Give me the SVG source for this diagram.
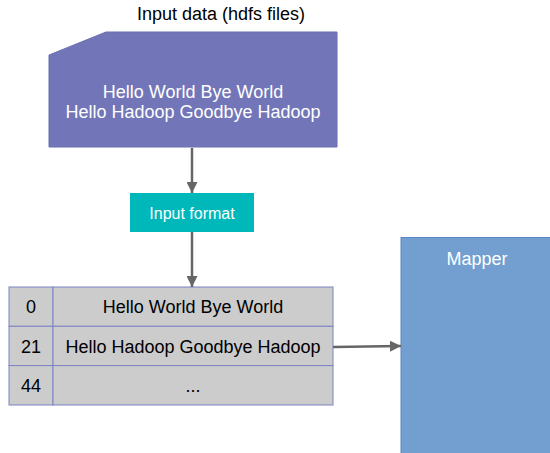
<svg xmlns="http://www.w3.org/2000/svg" width="550" height="453" viewBox="0 0 550 453">
<style>
text{font-family:"Liberation Sans",Arial,sans-serif;text-anchor:middle}
.w{fill:#ffffff}
.k{fill:#000000}
.cell{fill:#cccccc;stroke:#7d84c4;stroke-width:1}
.conn{stroke:#666666;stroke-width:2.5;fill:none;marker-end:url(#ah)}
</style>
<defs>
<marker id="ah" viewBox="0 0 10 10" refX="10" refY="5" markerWidth="4.4" markerHeight="4.4" markerUnits="strokeWidth" orient="auto">
<path d="M0,0 L10,5 L0,10 z" fill="#666666"/>
</marker>
</defs>
<text class="k" x="221" y="20" font-size="18">Input data (hdfs files)</text>
<g id="input-data">
<path d="M49,55 L106,32 L337,32 L337,147 L49,147 Z" fill="#7276b8" stroke="#6a6fb0" stroke-width="1"/>
<text class="w" x="193" y="98" font-size="18">Hello World Bye World</text>
<text class="w" x="193" y="118" font-size="18">Hello Hadoop Goodbye Hadoop</text>
</g>
<g id="input-format">
<rect x="130" y="193" width="124" height="39" fill="#00b7b9"/>
<text class="w" x="192" y="219" font-size="16">Input format</text>
</g>
<g id="table">
<rect class="cell" x="9" y="287" width="44" height="39.3"/>
<rect class="cell" x="53" y="287" width="280" height="39.3"/>
<rect class="cell" x="9" y="326.3" width="44" height="39.3"/>
<rect class="cell" x="53" y="326.3" width="280" height="39.3"/>
<rect class="cell" x="9" y="365.6" width="44" height="39.4"/>
<rect class="cell" x="53" y="365.6" width="280" height="39.4"/>
<text class="k" x="31" y="313" font-size="18">0</text>
<text class="k" x="193" y="313" font-size="18">Hello World Bye World</text>
<text class="k" x="31" y="353" font-size="18">21</text>
<text class="k" x="193" y="353" font-size="18">Hello Hadoop Goodbye Hadoop</text>
<text class="k" x="31" y="392" font-size="18">44</text>
<text class="k" x="193" y="392" font-size="18">...</text>
</g>
<g id="mapper">
<rect x="401" y="237.5" width="155" height="220" fill="#729fcf" stroke="#5b87c0" stroke-width="1"/>
<text class="w" x="477" y="265" font-size="18">Mapper</text>
</g>
<g id="connectors">
<line class="conn" x1="192" y1="148" x2="192" y2="193"/>
<line class="conn" x1="192" y1="232" x2="192" y2="287"/>
<line class="conn" x1="333" y1="347" x2="401" y2="346"/>
</g>
</svg>
